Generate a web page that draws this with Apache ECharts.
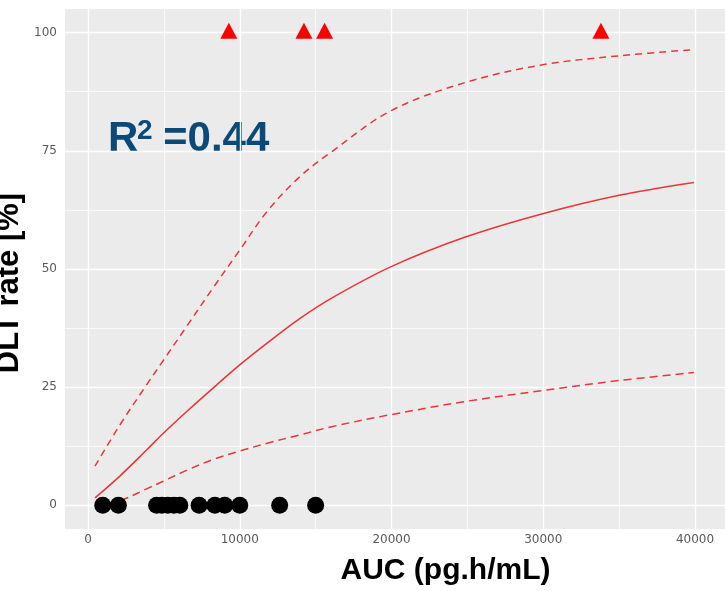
<!DOCTYPE html>
<html>
<head>
<meta charset="utf-8">
<script src="https://cdn.jsdelivr.net/npm/echarts@6/dist/echarts.min.js"></script>
<style>
  html, body { margin: 0; padding: 0; background: #ffffff; }
  #chart { width: 725px; height: 591px; }
</style>
</head>
<body>
<div id="chart"></div>
<script>
// AUC grid on which the fitted logistic curve and its band are evaluated
const aucGrid   = [460, 2100, 3860, 4950, 6490, 8240, 10000, 11760, 13950, 16140, 19980, 24910, 29960, 35000, 39930];
const fitRate   = [1.6, 6.2, 11.7, 15.2, 19.8, 24.8, 29.7, 34.2, 39.5, 44.0, 50.5, 56.8, 61.7, 65.6, 68.3];
const upperRate = [8.3, 17.0, 25.5, 30.6, 37.8, 46.0, 54.0, 62.0, 69.5, 75.0, 83.5, 89.5, 93.2, 95.1, 96.4];
const lowerRate = [0.2, 1.0, 3.5, 5.1, 7.4, 9.7, 11.5, 13.1, 14.9, 16.7, 19.2, 22.0, 24.3, 26.4, 28.1];

// Observed patients: no DLT (0 %) and DLT (100 %)
const noDltAuc = [970, 2000, 4520, 4870, 5260, 5660, 6050, 7320, 8360, 9010, 10000, 12630, 15000];
const dltAuc   = [9280, 14230, 15590, 33800];

// Axis breaks
const xTicks = [0, 10000, 20000, 30000, 40000];
const xMinor = [5000, 15000, 25000, 35000];
const yTicks = [0, 25, 50, 75, 100];
const yMinor = [12.5, 37.5, 62.5, 87.5];

const zip = (xs, ys) => xs.map((x, i) => [x, ys[i]]);

const gridLines = [
  ...xMinor.map(v => ({ xAxis: v, lineStyle: { width: 0.7 } })),
  ...yMinor.map(v => ({ yAxis: v, lineStyle: { width: 0.7 } })),
  ...xTicks.map(v => ({ xAxis: v, lineStyle: { width: 1.4 } })),
  ...yTicks.map(v => ({ yAxis: v, lineStyle: { width: 1.4 } }))
];

const chart = echarts.init(document.getElementById('chart'), null, { renderer: 'canvas' });

const tickLabel = { color: '#5a5a5a', fontFamily: 'DejaVu Sans', fontSize: 12 };
const curveColor = '#e8373a';

chart.setOption({
  animation: false,
  backgroundColor: '#ffffff',
  grid: {
    left: 65, right: 0, top: 9, bottom: 62,
    show: true, backgroundColor: '#ebebeb', borderWidth: 0
  },
  xAxis: {
    type: 'value', min: -1517, max: 41977,
    axisLine: { show: false },
    axisTick: { show: true, length: 4, customValues: xTicks, lineStyle: { color: '#444', width: 1 } },
    axisLabel: Object.assign({ margin: 5, customValues: xTicks, formatter: v => String(v) }, tickLabel),
    splitLine: { show: false }
  },
  yAxis: {
    type: 'value', min: -5, max: 105,
    axisLine: { show: false },
    axisTick: { show: true, length: 4, customValues: yTicks, lineStyle: { color: '#444', width: 1 } },
    axisLabel: Object.assign({ margin: 8, customValues: yTicks, formatter: v => String(v) }, tickLabel),
    splitLine: { show: false }
  },
  graphic: [
    { type: 'text', x: 108, y: 139.7,
      style: { text: 'R', fill: '#0b4a78', font: 'bold 42px "Liberation Sans", Arial, sans-serif', align: 'left', verticalAlign: 'middle' } },
    { type: 'text', x: 137, y: 131.3,
      style: { text: '2', fill: '#0b4a78', font: 'bold 28px "Liberation Sans", Arial, sans-serif', align: 'left', verticalAlign: 'middle' } },
    { type: 'text', x: 163, y: 139.7,
      style: { text: '=0.44', fill: '#0b4a78', font: 'bold 42px "Liberation Sans", Arial, sans-serif', align: 'left', verticalAlign: 'middle' } },
    { type: 'text', x: 445.5, y: 571,
      style: { text: 'AUC (pg.h/mL)', fill: '#000000', font: 'bold 30px "Liberation Sans", Arial, sans-serif', align: 'center', verticalAlign: 'middle' } },
    { type: 'text', x: 9, y: 283, rotation: Math.PI / 2,
      style: { text: 'DLT rate [%]', fill: '#000000', font: 'bold 31px "Liberation Sans", Arial, sans-serif', align: 'center', verticalAlign: 'middle' } }
  ],
  series: [
    {
      name: 'grid', type: 'line', data: [], z: 1, silent: true,
      markLine: {
        z: 1, silent: true, symbol: ['none', 'none'], animation: false,
        label: { show: false }, emphasis: { disabled: true },
        lineStyle: { color: '#ffffff', type: 'solid', width: 1.4 },
        data: gridLines
      }
    },
    {
      name: 'upper', type: 'line', data: zip(aucGrid, upperRate), smooth: 0.35,
      showSymbol: false, silent: true, z: 3,
      lineStyle: { color: curveColor, width: 1.5, type: [7, 5] }
    },
    {
      name: 'lower', type: 'line', data: zip(aucGrid, lowerRate), smooth: 0.35,
      showSymbol: false, silent: true, z: 3,
      lineStyle: { color: curveColor, width: 1.5, type: [8, 5] }
    },
    {
      name: 'fit', type: 'line', data: zip(aucGrid, fitRate), smooth: 0.35,
      showSymbol: false, silent: true, z: 3,
      lineStyle: { color: curveColor, width: 1.6, type: 'solid' }
    },
    {
      name: 'no DLT', type: 'scatter', data: noDltAuc.map(x => [x, 0]), z: 4,
      symbol: 'circle', symbolSize: 17, silent: true,
      itemStyle: { color: '#000000', opacity: 1 }
    },
    {
      name: 'DLT', type: 'scatter', data: dltAuc.map(x => [x, 100]), z: 4,
      symbol: 'triangle', symbolSize: [17, 16], symbolOffset: [0, -2], silent: true,
      itemStyle: { color: '#ff0000', opacity: 1 }
    }
  ]
});
</script>
</body>
</html>
